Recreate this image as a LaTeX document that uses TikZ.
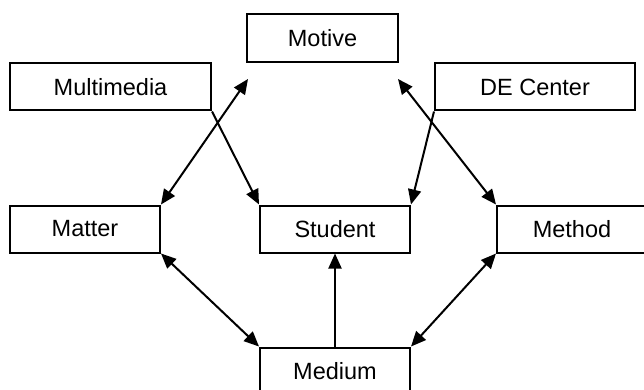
\documentclass[tikz,border=0pt]{standalone}
\usepackage{fontspec}
\setmainfont{Liberation Sans}
\usetikzlibrary{arrows.meta}
\begin{document}
\begin{tikzpicture}[x=1pt,y=-1pt,
  box/.style={draw=black,line width=2pt,rectangle,inner sep=0pt,minimum width=150pt,minimum height=47pt,font=\fontsize{23.5}{26}\selectfont},
  conn/.style={line width=2pt,-{Triangle[length=15pt,width=13pt]}},
  dconn/.style={line width=2pt,{Triangle[length=15pt,width=13pt]}-{Triangle[length=15pt,width=13pt]}}]
\useasboundingbox (0,0) rectangle (644,390);
\node[box,minimum height=48pt,minimum width=151pt] (motive) at (322.5,38) {Motive};
\node[box,minimum width=201pt] (multi) at (110.5,87) {Multimedia};
\node[box,minimum width=200pt] (de) at (535,87) {DE Center};
\node[box] (matter) at (85,229) {Matter};
\node[box] (student) at (335,229) {Student};
\node[box] (method) at (572,229) {Method};
\node[box] (medium) at (335,371) {Medium};
\coordinate (mL) at (248,79);
\coordinate (mR) at (398,79);
\draw[dconn] (matter.north east) -- (mL);
\draw[dconn] (mR) -- (method.north west);
\draw[conn] (multi.south east) -- (student.north west);
\draw[conn] (de.south west) -- (student.north east);
\draw[dconn] (matter.south east) -- (medium.north west);
\draw[dconn] (method.south west) -- (medium.north east);
\draw[conn] (medium.north) -- (student.south);
\end{tikzpicture}
\end{document}
